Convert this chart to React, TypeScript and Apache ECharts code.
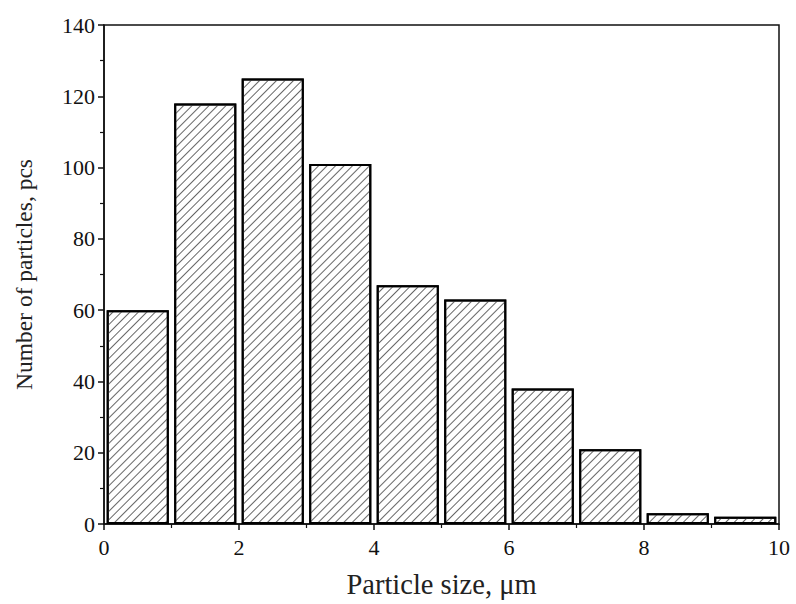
import React, { useEffect, useRef } from "react";
import * as echarts from "echarts";

const binLabels = ["0-1", "1-2", "2-3", "3-4", "4-5", "5-6", "6-7", "7-8", "8-9", "9-10"];
const counts = [60, 118, 125, 101, 67, 63, 38, 21, 3, 2];
const xTitle = "Particle size, μm";
const yTitle = "Number of particles, pcs";

const FONT = "Liberation Serif";

export default function App() {
  const ref = useRef<HTMLDivElement>(null);
  useEffect(() => {
    if (!ref.current) return;
    const chart = echarts.init(ref.current, null, { renderer: "svg" });
    chart.setOption({
      animation: false,
      backgroundColor: "#fff",
      grid: {
        left: 104,
        right: 17,
        top: 25,
        bottom: 78,
        show: true,
        borderColor: "#111",
        borderWidth: 1.5,
        backgroundColor: "transparent",
      },
      xAxis: [
        {
          type: "category",
          data: binLabels,
          show: false,
          boundaryGap: true,
        },
        {
          type: "value",
          min: 0,
          max: 10,
          interval: 2,
          position: "bottom",
          name: xTitle,
          nameLocation: "middle",
          nameGap: 46,
          nameTextStyle: { fontFamily: FONT, fontSize: 28.5, color: "#222" },
          axisLine: { show: true, lineStyle: { color: "#111", width: 1.5 } },
          axisTick: { show: true, inside: false, length: 6, lineStyle: { color: "#111", width: 1.5 } },
          minorTick: { show: true, splitNumber: 2, length: 4, lineStyle: { color: "#111", width: 1.2 } },
          axisLabel: { fontFamily: FONT, fontSize: 22, color: "#111", margin: 12 },
          splitLine: { show: false },
        },
      ],
      yAxis: {
        type: "value",
        min: 0,
        max: 140,
        interval: 20,
        name: yTitle,
        nameLocation: "middle",
        nameGap: 68,
        nameTextStyle: { fontFamily: FONT, fontSize: 23.5, color: "#222" },
        axisLine: { show: true, lineStyle: { color: "#111", width: 1.5 } },
        axisTick: { show: true, inside: false, length: 6, lineStyle: { color: "#111", width: 1.5 } },
        minorTick: { show: true, splitNumber: 2, length: 4, lineStyle: { color: "#111", width: 1.2 } },
        axisLabel: { fontFamily: FONT, fontSize: 22, color: "#111", margin: 9 },
        splitLine: { show: false },
      },
      series: [
        {
          type: "bar",
          xAxisIndex: 0,
          data: counts,
          barCategoryGap: "8%",
          itemStyle: {
            color: "#fff",
            borderColor: "#000",
            borderWidth: 2,
            decal: {
              symbol: "rect",
              symbolSize: 1,
              color: "#666",
              backgroundColor: "#fff",
              dashArrayX: [1, 0],
              dashArrayY: [1, 4.5],
              rotation: -Math.PI / 4,
            },
          },
        },
      ],
    });
    return () => chart.dispose();
  }, []);
  return (
    <div
      ref={ref}
      style={{ position: "fixed", left: 0, top: 0, width: 796, height: 604 }}
    />
  );
}
